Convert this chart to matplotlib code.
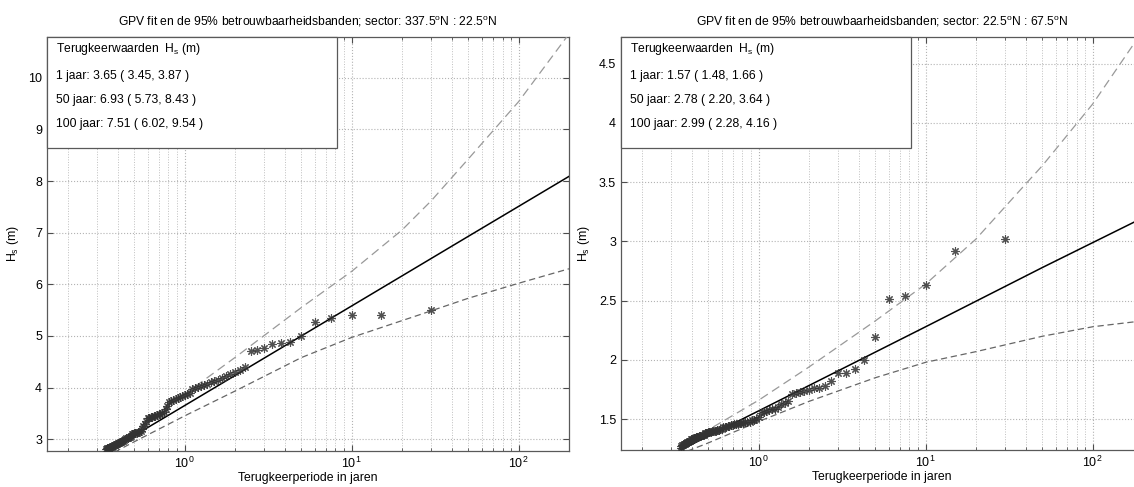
import numpy as np
import matplotlib
matplotlib.use('Agg')
import matplotlib.pyplot as plt
from matplotlib.patches import Rectangle
from matplotlib.ticker import FuncFormatter, LogLocator, NullFormatter

plt.rcParams['font.family'] = ['Liberation Sans', 'DejaVu Sans']
plt.rcParams['mathtext.default'] = 'regular'

''' plotting positions (years), read from the picture '''
T_obs = [30, 15, 10, 7.5, 6, 5, 4.286, 3.75, 3.333, 3, 2.727, 2.5, 2.308, 2.143,
         2, 1.875, 1.765, 1.667, 1.579, 1.5, 1.429, 1.364, 1.304, 1.25, 1.2,
         1.154, 1.111, 1.071, 1.034, 1.0, 0.968, 0.938, 0.909, 0.882, 0.857,
         0.833, 0.811, 0.789, 0.769, 0.75, 0.732, 0.714, 0.698, 0.682, 0.667,
         0.652, 0.638, 0.625, 0.612, 0.6, 0.588, 0.577, 0.566, 0.556, 0.545,
         0.536, 0.526, 0.517, 0.508, 0.5, 0.492, 0.484, 0.476, 0.469, 0.462,
         0.455, 0.448, 0.441, 0.435, 0.429, 0.423, 0.417, 0.411, 0.405, 0.4,
         0.395, 0.39, 0.385, 0.38, 0.375, 0.37, 0.366, 0.361, 0.357, 0.353,
         0.349, 0.345, 0.341, 0.337]

''' sector 337.5N : 22.5N '''
hs_1 = [5.51, 5.40, 5.40, 5.34, 5.26, 5.00, 4.88, 4.87, 4.84, 4.76, 4.73, 4.70,
        4.39, 4.34, 4.30, 4.27, 4.22, 4.18, 4.15, 4.13, 4.10, 4.06, 4.04, 4.02,
        4.01, 4.00, 3.97, 3.90, 3.87, 3.85, 3.84, 3.82, 3.80, 3.78, 3.76, 3.74,
        3.72, 3.65, 3.58, 3.52, 3.50, 3.49, 3.48, 3.46, 3.45, 3.44, 3.43, 3.42,
        3.41, 3.40, 3.36, 3.30, 3.25, 3.20, 3.16, 3.14, 3.13, 3.12, 3.11, 3.11,
        3.10, 3.09, 3.07, 3.05, 3.04, 3.03, 3.02, 3.00, 2.99, 2.97, 2.96, 2.95,
        2.94, 2.93, 2.92, 2.91, 2.90, 2.89, 2.88, 2.87, 2.86, 2.85, 2.85, 2.84,
        2.83, 2.83, 2.82, 2.81, 2.80]

fit_T_1 = [0.337, 1, 10, 50, 100, 200]
fit_1 = [2.74, 3.65, 5.58, 6.93, 7.51, 8.09]
up_T_1 = [0.337, 0.5, 1, 2, 5, 10, 20, 30, 50, 100, 200]
up_1 = [2.79, 3.17, 3.87, 4.58, 5.55, 6.25, 7.05, 7.62, 8.43, 9.54, 10.85]
lo_T_1 = [0.337, 0.5, 1, 2, 5, 10, 25, 50, 100, 200]
lo_1 = [2.66, 2.95, 3.45, 3.93, 4.58, 4.97, 5.40, 5.73, 6.02, 6.30]

''' sector 22.5N : 67.5N '''
hs_2 = [3.02, 2.92, 2.63, 2.54, 2.51, 2.19, 2.00, 1.92, 1.89, 1.89, 1.82, 1.78,
        1.76, 1.76, 1.75, 1.74, 1.73, 1.72, 1.71, 1.65, 1.64, 1.63, 1.60, 1.59,
        1.59, 1.58, 1.57, 1.56, 1.55, 1.52, 1.50, 1.49, 1.49, 1.48, 1.48, 1.48,
        1.47, 1.47, 1.47, 1.46, 1.46, 1.46, 1.45, 1.45, 1.44, 1.44, 1.43, 1.43,
        1.43, 1.42, 1.42, 1.41, 1.41, 1.40, 1.40, 1.40, 1.40, 1.39, 1.39, 1.39,
        1.38, 1.38, 1.38, 1.37, 1.37, 1.37, 1.36, 1.36, 1.35, 1.35, 1.35, 1.34,
        1.34, 1.33, 1.33, 1.33, 1.32, 1.32, 1.31, 1.31, 1.30, 1.30, 1.29, 1.29,
        1.28, 1.28, 1.27, 1.26]

fit_T_2 = [0.33, 1, 10, 50, 100, 200]
fit_2 = [1.23, 1.57, 2.28, 2.78, 2.99, 3.20]
up_T_2 = [0.33, 0.5, 1, 2, 5, 10, 20, 40, 50, 100, 200]
up_2 = [1.25, 1.41, 1.66, 1.94, 2.33, 2.64, 3.02, 3.49, 3.64, 4.16, 4.78]
lo_T_2 = [0.33, 0.5, 1, 2, 5, 10, 20, 50, 100, 200]
lo_2 = [1.20, 1.30, 1.48, 1.65, 1.85, 1.98, 2.07, 2.20, 2.28, 2.33]

titles = ['GPV fit en de 95% betrouwbaarheidsbanden; sector: 337.5$^{o}$N : 22.5$^{o}$N',
          'GPV fit en de 95% betrouwbaarheidsbanden; sector: 22.5$^{o}$N : 67.5$^{o}$N']
box_lines = [['1 jaar: 3.65 ( 3.45, 3.87 )', '50 jaar: 6.93 ( 5.73, 8.43 )',
              '100 jaar: 7.51 ( 6.02, 9.54 )'],
             ['1 jaar: 1.57 ( 1.48, 1.66 )', '50 jaar: 2.78 ( 2.20, 3.64 )',
              '100 jaar: 2.99 ( 2.28, 4.16 )']]
ylims = [(2.77, 10.79), (1.24, 4.725)]
yticks = [[3, 4, 5, 6, 7, 8, 9, 10], [1.5, 2, 2.5, 3, 3.5, 4, 4.5]]


def panel(ax, T, hs, fT, fh, uT, uh, lT, lh, title, lines, ylim, yt):
    ax.set_xscale('log')
    ax.plot(uT, uh, color='0.6', lw=0.9, dashes=(7, 4), zorder=3)
    ax.plot(lT, lh, color='0.4', lw=0.9, dashes=(5, 3), zorder=3)
    ax.plot(fT, fh, color='k', lw=1.1, zorder=4)
    ax.plot(T[:len(hs)], hs, ls='none', marker=(8, 2, 0), ms=6, mew=0.8,
            mec='0.2', alpha=0.85, zorder=5)
    ax.set_xlim(0.15, 200)
    ax.set_ylim(*ylim)
    ax.set_yticks(yt)
    ax.yaxis.set_major_formatter(FuncFormatter(lambda v, p: '%g' % v))
    ax.xaxis.set_major_locator(LogLocator(base=10))
    ax.xaxis.set_minor_locator(LogLocator(base=10, subs=np.arange(2, 10)))
    ax.xaxis.set_minor_formatter(NullFormatter())
    ax.grid(True, which='major', color='0.7', ls=':', lw=0.8)
    ax.grid(True, which='minor', axis='x', color='0.75', ls=':', lw=0.7)
    ax.tick_params(which='both', direction='in', top=True, right=True,
                   labelsize=9, color='0.3')
    ax.tick_params(which='major', length=4)
    ax.tick_params(which='minor', length=2)
    for s in ax.spines.values():
        s.set_color('0.35')
        s.set_linewidth(0.9)
    ax.set_title(title, fontsize=8.7, pad=8)
    ax.set_xlabel('Terugkeerperiode in jaren', fontsize=8.8, labelpad=1)
    ax.set_ylabel('$H_s$ (m)', fontsize=8.8, labelpad=5)

    ax.add_patch(Rectangle((0, 0.732), 0.556, 0.268, transform=ax.transAxes,
                           facecolor='white', edgecolor='0.35', lw=0.9,
                           zorder=6, clip_on=False))
    ax.text(0.018, 0.972, 'Terugkeerwaarden  $H_s$ (m)', transform=ax.transAxes,
            fontsize=8.7, va='center', zorder=7)
    for k, txt in enumerate(lines):
        ax.text(0.018, 0.905 - 0.058 * k, txt, transform=ax.transAxes,
                fontsize=8.7, va='center', zorder=7)


fig = plt.figure(figsize=(11.34, 4.87), dpi=100)
ax1 = fig.add_axes([47 / 1134, 36 / 487, 522 / 1134, 414 / 487])
ax2 = fig.add_axes([621 / 1134, 37 / 487, 522 / 1134, 413 / 487])

panel(ax1, T_obs, hs_1, fit_T_1, fit_1, up_T_1, up_1, lo_T_1, lo_1,
      titles[0], box_lines[0], ylims[0], yticks[0])
panel(ax2, T_obs, hs_2, fit_T_2, fit_2, up_T_2, up_2, lo_T_2, lo_2,
      titles[1], box_lines[1], ylims[1], yticks[1])

fig.savefig('out.png', dpi=100)
